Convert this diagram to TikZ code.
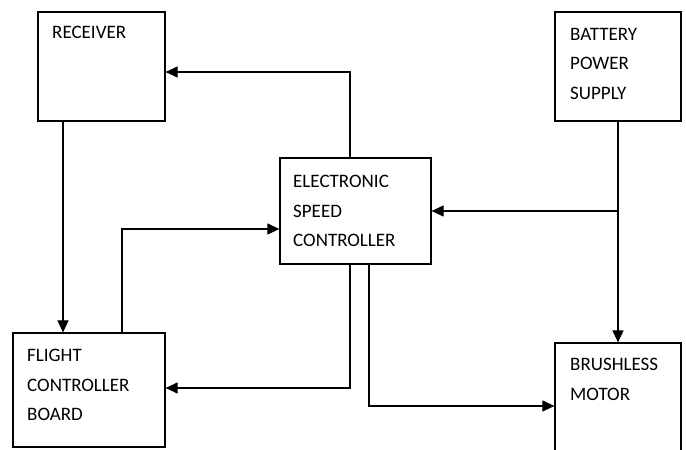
\documentclass[tikz,border=0pt]{standalone}
\usepackage{fontspec}
\setmainfont{Carlito}
\usetikzlibrary{arrows.meta}
\tikzset{
  box/.style={draw, line width=1.2pt, rectangle, inner sep=0pt},
  lbl/.style={anchor=north west, inner sep=0pt, align=left, font={\fontsize{19}{29.5}\selectfont}},
  arr/.style={line width=1.1pt, -{Triangle[length=12pt,width=11pt]}}
}
\begin{document}
\begin{tikzpicture}[x=1pt,y=-1pt]
\clip (0,0) rectangle (686,450);
\fill[white] (0,0) rectangle (686,450);
\node[box, minimum width=127pt, minimum height=109pt] (rec) at (101.5,66.5) {};
\node[box, minimum width=152pt, minimum height=114pt] (fcb) at (89,390) {};
\node[box, minimum width=151pt, minimum height=106pt] (esc) at (355.5,211) {};
\node[box, minimum width=126pt, minimum height=109pt] (bat) at (618,66.5) {};
\node[box, minimum width=126pt, minimum height=120pt] (mot) at (618,403) {};
\node[lbl] (rect) at (52,26) {RECEIVER};
\node[lbl] (batt) at (570,28) {BATTERY\\POWER\\SUPPLY};
\node[lbl] (esct) at (293,175) {ELECTRONIC\\SPEED\\CONTROLLER};
\node[lbl] (fcbt) at (27,349) {FLIGHT\\CONTROLLER\\BOARD};
\node[lbl] (mott) at (570,358) {BRUSHLESS\\MOTOR};
\draw[arr] ([xshift=-5.5pt]esc.north) |- ([yshift=-5.5pt]rec.east);
\draw[arr] ([xshift=-38.5pt]rec.south) -- ([xshift=-38.5pt]rec.south |- fcb.north);
\draw[arr] ([xshift=33pt]fcb.north) |- ([yshift=-18pt]esc.west);
\draw[arr] ([xshift=-5.5pt]esc.south) |- ([yshift=2pt]fcb.east);
\draw[arr] ([xshift=13.5pt]esc.south) |- ([yshift=-3pt]mot.west);
\draw[arr] (bat.south) -- (mot.north);
\coordinate (br) at (bat.south |- esc.east);
\draw[arr] (br) -- (esc.east);
\end{tikzpicture}
\end{document}
